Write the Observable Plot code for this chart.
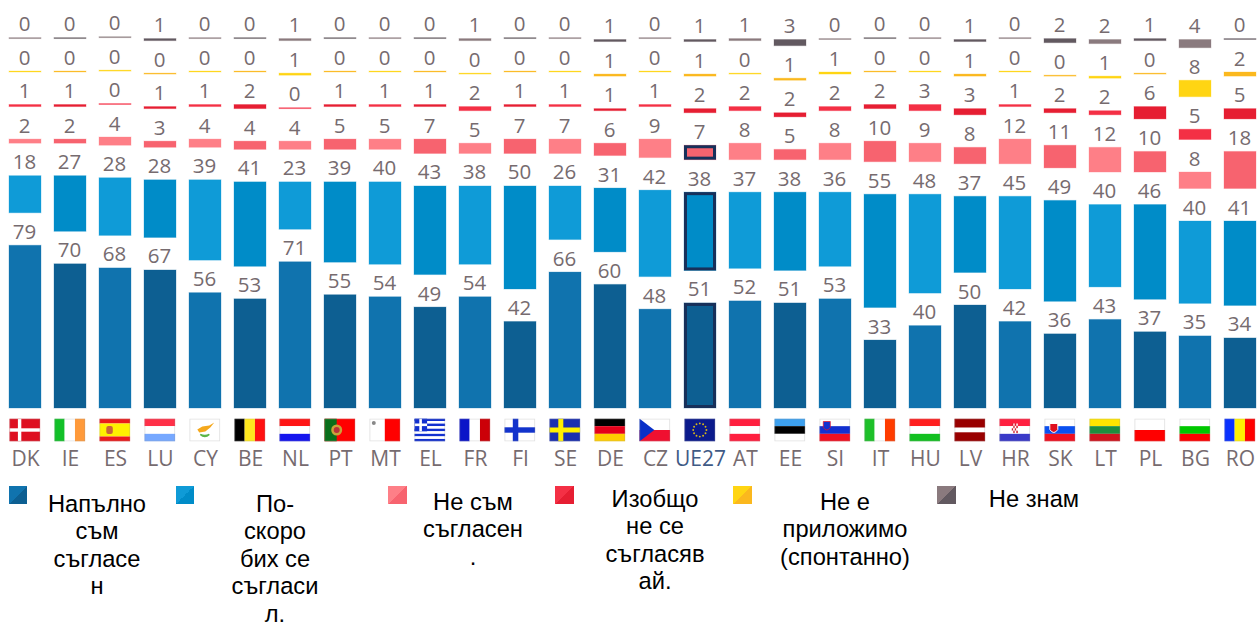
<!DOCTYPE html>
<html>
<head>
<meta charset="utf-8">
<script src="https://cdn.jsdelivr.net/npm/d3@7"></script>
<script src="https://cdn.jsdelivr.net/npm/@observablehq/plot@0.6"></script>
<style>
html,body{margin:0;padding:0;background:#fff;overflow:hidden;width:1258px;height:623px}
#legend{position:relative;width:1258px;height:139px;font-family:"Liberation Sans",Arial,sans-serif;color:#000}
#legend .sw{position:absolute;width:18.6px;height:18.6px}
#legend .lb{position:absolute;width:170px;text-align:center;font-size:23.7px;line-height:27.6px}
</style>
</head>
<body>
<div id="chart"></div>
<div id="legend"></div>
<script>
const countries = ["DK","IE","ES","LU","CY","BE","NL","PT","MT","EL","FR","FI","SE","DE","CZ","UE27","AT","EE","SI","IT","HU","LV","HR","SK","LT","PL","BG","RO"];
const darkBlue  = [79,70,68,67,56,53,71,55,54,49,54,42,66,60,48,51,52,51,53,33,40,50,42,36,43,37,35,34];
const lightBlue = [18,27,28,28,39,41,23,39,40,43,38,50,26,31,42,38,37,38,36,55,48,37,45,49,40,46,40,41];
const pink      = [2,2,4,3,4,4,4,5,5,7,5,7,7,6,9,7,8,5,8,10,9,8,12,11,12,10,8,18];
const red       = [1,1,0,1,1,2,0,1,1,1,2,1,1,1,1,2,2,2,2,2,3,3,1,2,2,6,5,5];
const yellow    = [0,0,0,0,0,0,1,0,0,0,0,0,0,1,0,1,0,1,1,0,0,1,0,0,1,0,8,2];
const gray      = [0,0,0,1,0,0,1,0,0,0,1,0,0,1,0,1,1,3,0,0,0,1,0,2,2,1,4,0];

const seriesValues = [darkBlue, lightBlue, pink, red, yellow, gray];
const seriesTones = [
  ["#1073AE","#0D5F92"],
  ["#0F9BD7","#008CC8"],
  ["#FE7F87","#F7636F"],
  ["#F43045","#E61E32"],
  ["#FFD513","#FBB81E"],
  ["#8A7A7E","#625960"]
];
const legendLabels = [
  ["Напълно","съм","съгласе","н"],
  ["По-","скоро","бих се","съгласи","л."],
  ["Не съм","съгласен","."],
  ["Изобщо","не се","съгласяв","ай."],
  ["Не е","приложимо","(спонтанно)"],
  ["Не знам"]
];
// legend geometry: swatch left edge, label centre, first-line baseline
const legendSwatchX = [8.7,175.7,388,555,733,937];
const legendTextX   = [97,275,473,655,845,1034];
const legendBase    = [512,512,510,507,510,507];

/* ---------- flags ---------- */
const W = 31, H = 23;
const hs = (cs, ws) => { const t = ws ? d3.sum(ws) : cs.length; let y = 0; return cs.map((c,i)=>{const h=(ws?ws[i]:1)*H/t; const s=`<rect x="0" y="${y}" width="${W}" height="${h}" fill="${c}"/>`; y+=h; return s;}).join(""); };
const vs = (cs, ws) => { const t = ws ? d3.sum(ws) : cs.length; let x = 0; return cs.map((c,i)=>{const w=(ws?ws[i]:1)*W/t; const s=`<rect x="${x}" y="0" width="${w}" height="${H}" fill="${c}"/>`; x+=w; return s;}).join(""); };
const r = (x,y,w,h,c) => `<rect x="${x}" y="${y}" width="${w}" height="${h}" fill="${c}"/>`;
const stars = d3.range(12).map(i=>{const a=i*Math.PI/6;return `<circle cx="${15.5+6.6*Math.cos(a)}" cy="${11.5+6.6*Math.sin(a)}" r="0.95" fill="#D9B916"/>`}).join("");
const greek = hs(d3.range(9).map(i=>i%2?"#fff":"#1230D0")) + r(0,0,12.8,12.8,"#1230D0") + r(5,0,2.6,12.8,"#fff") + r(0,5,12.8,2.6,"#fff");
const hrChecks = d3.range(16).map(i=>`<rect x="${12.5+(i%4)*1.5}" y="${5+Math.floor(i/4)*2.4}" width="1.5" height="2.4" fill="${(i+Math.floor(i/4))%2?"#fff":"#D02030"}"/>`).join("");
const flagBodies = {
  DK: r(0,0,W,H,"#DE1020")+r(8.6,0,3.4,H,"#fff")+r(0,9.8,W,3.4,"#fff"),
  IE: vs(["#12C029","#fff","#FF9A3A"]),
  ES: hs(["#EA1C1C","#FFF200","#EA1C1C"],[1,2.6,1])+`<rect x="7" y="7.5" width="6.5" height="8" rx="2" fill="#C8663A"/>`,
  LU: hs(["#FF3048","#fff","#76A8FF"]),
  CY: r(0,0,W,H,"#fff")+`<path d="M8 11 L13 8 L20 7 L25 4 L21 9 L16 13 L10 14 Z" fill="#F5A81C"/><path d="M11 16 Q15.5 20 20 16 Q15.5 18 11 16 Z" stroke="#5DB548" stroke-width="1.6" fill="none"/>`,
  BE: vs(["#000","#FFE81E","#FF1010"]),
  NL: hs(["#FF1515","#fff","#1515EE"]),
  PT: r(0,0,W,H,"#FF0000")+r(0,0,12.4,H,"#0A6E1A")+`<circle cx="12.4" cy="11.5" r="5.5" fill="#C9A23A"/><circle cx="12.4" cy="11.5" r="3" fill="#B8323A"/>`,
  MT: vs(["#fff","#FF0000"])+`<circle cx="4.5" cy="4.5" r="2" fill="#888"/>`,
  EL: greek,
  FR: vs(["#0B14C8","#fff","#CC0008"]),
  FI: r(0,0,W,H,"#fff")+r(8.5,0,5.5,H,"#1233CC")+r(0,8.8,W,5.4,"#1233CC"),
  SE: r(0,0,W,H,"#1A2FB0")+r(9,0,5,H,"#FFF000")+r(0,9,W,5,"#FFF000"),
  DE: hs(["#000","#E5001A","#FFCE00"]),
  CZ: hs(["#fff","#F01030"])+`<path d="M0 0 L15 11.5 L0 23 Z" fill="#0A30C8"/>`,
  UE27: r(0,0,W,H,"#0B1A8C")+stars,
  AT: hs(["#FF1F3F","#fff","#FF1F3F"]),
  EE: hs(["#3DA0EE","#000","#fff"]),
  SI: hs(["#fff","#1230D0","#F01020"])+`<path d="M4 3 h7 v6 q-3.5 5 -7 0 Z" fill="#1230D0" stroke="#F01020" stroke-width="0.7"/>`,
  IT: vs(["#1EC02A","#fff","#FF3C00"]),
  HU: hs(["#FF1F1F","#fff","#12C020"]),
  LV: hs(["#990000","#fff","#990000"],[2,1,2]),
  HR: hs(["#FF2040","#fff","#3A3AC8"])+hrChecks,
  SK: hs(["#fff","#0A50F0","#F01020"])+`<path d="M5.5 5 h8 v6 q-4 6 -8 0 Z" fill="#E01020" stroke="#fff" stroke-width="1"/>`,
  LT: hs(["#FFE500","#1E8E3E","#D0141E"]),
  PL: hs(["#fff","#FF0000"]),
  BG: hs(["#fff","#00C800","#FF0000"]),
  RO: vs(["#0A32FF","#FFF000","#FF0000"])
};
const flagUri = c => "data:image/svg+xml," + encodeURIComponent(
  `<svg xmlns="http://www.w3.org/2000/svg" width="${W}" height="${H}" viewBox="0 0 ${W} ${H}">${flagBodies[c]}<rect x="0.5" y="0.5" width="${W-1}" height="${H-1}" fill="none" stroke="#999" stroke-opacity="0.3"/></svg>`);

/* ---------- layout ---------- */
const pxPerUnit = 2.06;
const gapUnits = 32.5 / pxPerUnit;
const baseline = 408;
const minShown = 0.45;            // a rounded 0 still shows as a hairline

const rows = [];
countries.forEach((c, i) => {
  let top = 0;
  seriesValues.forEach((vals, s) => {
    const v = vals[i];
    const y1 = top;
    const y2 = top + Math.max(v, minShown);
    rows.push({country:c, value:v, y1, y2, series:s, fill: seriesTones[s][i % 2]});
    top = y2 + gapUnits;
  });
});
const eu = rows.filter(d => d.country === "UE27" && d.series < 3);
const textColor = "#766B6F";
const font = '"Open Sans", sans-serif';

const plot = Plot.plot({
  width: 1258,
  height: 484,
  marginTop: 0, marginRight: 0, marginLeft: 0, marginBottom: 76,
  style: {fontFamily: font, background: "transparent"},
  x: {type: "band", domain: countries, range: [8.7, 8.7 + 27 * 45.185 + 32], padding: 13.185 / 45.185, paddingOuter: 0, align: 0, axis: null},
  y: {type: "linear", domain: [0, baseline / pxPerUnit], range: [baseline, 0], axis: null},
  color: {type: "identity"},
  marks: [
    Plot.barY(rows, {x: "country", y1: "y1", y2: "y2", fill: "fill", stroke: "fill", strokeOpacity: 0.3, strokeWidth: 1}),
    Plot.barY(eu, {x: "country", y1: "y1", y2: "y2", inset: 1.5, fill: "none", stroke: "#17305A", strokeWidth: 3}),
    Plot.text(rows, {x: "country", y: "y2", text: d => String(d.value), dx: -1, dy: -7, lineAnchor: "bottom", fill: textColor, fontSize: 20.5}),
    Plot.image(countries, {x: d => d, frameAnchor: "bottom", dx: -0.7, dy: 21.5, width: W, height: H, src: flagUri}),
    Plot.axisX(countries, {anchor: "bottom", tickSize: 0, tickPadding: 43, fontSize: 21, label: null, fill: d => d === "UE27" ? "#3F5A85" : textColor})
  ]
});
document.getElementById("chart").appendChild(plot);
plot.style.display = "block";

/* ---------- legend ---------- */
const legend = document.getElementById("legend");
const legendTop = 484;
seriesTones.forEach((t, i) => {
  const sw = document.createElement("div");
  sw.className = "sw";
  sw.style.left = legendSwatchX[i] + "px";
  sw.style.top = (485.5 - legendTop) + "px";
  sw.style.background = `linear-gradient(to bottom right, ${t[0]} 50%, ${t[1]} 50%)`;
  legend.appendChild(sw);
  const lb = document.createElement("div");
  lb.className = "lb";
  lb.style.left = (legendTextX[i] - 85) + "px";
  lb.style.top = (legendBase[i] - 21.5 - legendTop) + "px";
  lb.innerHTML = legendLabels[i].join("<br>");
  legend.appendChild(lb);
});
</script>
</body>
</html>
